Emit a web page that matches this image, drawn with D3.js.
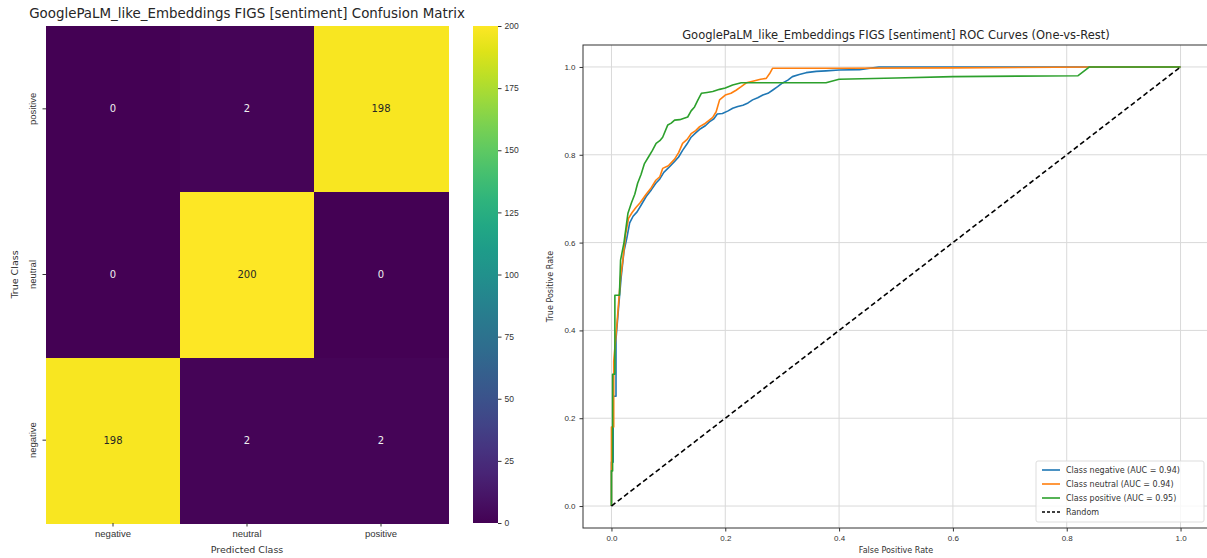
<!DOCTYPE html>
<html>
<head>
<meta charset="utf-8">
<script src="https://cdn.jsdelivr.net/npm/d3@7"></script>
<style>
  body { margin: 0; background: #fff; }
  svg { display: block; font-family: "DejaVu Sans", sans-serif; }
  .axis path, .axis line { stroke: #333; }
  .axis text { fill: #333; }
</style>
</head>
<body>
<svg id="chart" width="1207" height="558"></svg>
<script>
// ---- data ----
const classes = ["negative", "neutral", "positive"];
// rows = true class (negative, neutral, positive), cols = predicted class
const confusion = [
  [198, 2, 2],
  [0, 200, 0],
  [0, 2, 198]
];
const colorbarTicks = [0, 25, 50, 75, 100, 125, 150, 175, 200];
const rocTicks = [0, 0.2, 0.4, 0.6, 0.8, 1.0];

const negFpr = [0, 0, 0.003, 0.003, 0.008, 0.008, 0.013, 0.017, 0.022, 0.027, 0.032, 0.038, 0.045, 0.052, 0.061, 0.07, 0.078, 0.085, 0.092, 0.1, 0.111, 0.118, 0.125, 0.133, 0.14, 0.148, 0.155, 0.165, 0.172, 0.18, 0.186, 0.195, 0.205, 0.213, 0.222, 0.231, 0.24, 0.248, 0.257, 0.266, 0.275, 0.283, 0.292, 0.3, 0.31, 0.318, 0.33, 0.342, 0.36, 0.377, 0.4, 0.436, 0.47, 0.6, 1.0];
const negTpr = [0, 0.1, 0.1, 0.25, 0.25, 0.38, 0.46, 0.52, 0.58, 0.61, 0.645, 0.66, 0.67, 0.685, 0.705, 0.72, 0.735, 0.745, 0.76, 0.77, 0.785, 0.795, 0.81, 0.825, 0.84, 0.85, 0.858, 0.866, 0.875, 0.882, 0.893, 0.894, 0.9, 0.906, 0.91, 0.913, 0.918, 0.925, 0.93, 0.936, 0.94, 0.947, 0.955, 0.963, 0.97, 0.978, 0.983, 0.987, 0.99, 0.991, 0.993, 0.994, 1.0, 1.0, 1.0];

const neuFpr = [0, 0, 0.004, 0.004, 0.01, 0.013, 0.016, 0.02, 0.025, 0.03, 0.036, 0.043, 0.05, 0.061, 0.07, 0.078, 0.085, 0.09, 0.1, 0.111, 0.118, 0.125, 0.133, 0.14, 0.148, 0.155, 0.163, 0.172, 0.178, 0.184, 0.19, 0.2, 0.21, 0.219, 0.228, 0.237, 0.25, 0.262, 0.272, 0.278, 0.283, 0.4, 0.6, 0.85, 1.0];
const neuTpr = [0, 0.18, 0.18, 0.33, 0.42, 0.47, 0.52, 0.56, 0.62, 0.655, 0.668, 0.68, 0.69, 0.71, 0.725, 0.742, 0.75, 0.769, 0.775, 0.79, 0.805, 0.826, 0.835, 0.848, 0.855, 0.864, 0.87, 0.879, 0.885, 0.898, 0.925, 0.936, 0.94, 0.947, 0.955, 0.964, 0.968, 0.972, 0.974, 0.985, 0.997, 0.997, 0.998, 1.0, 1.0];

const posFpr = [0, 0, 0.002, 0.002, 0.006, 0.006, 0.014, 0.016, 0.022, 0.029, 0.035, 0.041, 0.046, 0.052, 0.058, 0.065, 0.072, 0.0785, 0.085, 0.09, 0.099, 0.105, 0.111, 0.12, 0.134, 0.14, 0.146, 0.152, 0.158, 0.168, 0.178, 0.19, 0.2, 0.213, 0.228, 0.313, 0.377, 0.4, 0.5, 0.6, 0.82, 0.84, 1.0];
const posTpr = [0, 0.08, 0.08, 0.3, 0.3, 0.48, 0.48, 0.56, 0.6, 0.667, 0.69, 0.71, 0.735, 0.755, 0.78, 0.795, 0.81, 0.826, 0.832, 0.84, 0.868, 0.872, 0.879, 0.88, 0.886, 0.9, 0.909, 0.925, 0.94, 0.942, 0.944, 0.949, 0.952, 0.959, 0.964, 0.964, 0.964, 0.972, 0.975, 0.978, 0.98, 1.0, 1.0];

const rocSeries = [
  { label: "Class negative (AUC = 0.94)", color: "#1f77b4", fpr: negFpr, tpr: negTpr },
  { label: "Class neutral (AUC = 0.94)", color: "#ff7f0e", fpr: neuFpr, tpr: neuTpr },
  { label: "Class positive (AUC = 0.95)", color: "#2ca02c", fpr: posFpr, tpr: posTpr }
];

const svg = d3.select("#chart");

// ---- confusion matrix (left) ----
const cm = { x0: 46, x1: 448, y0: 26, y1: 523 };
const color = d3.scaleSequential([0, 200], d3.interpolateViridis);

const xBand = d3.scaleBand().domain(classes).range([cm.x0, cm.x1]);
const yBand = d3.scaleBand().domain(classes.slice().reverse()).range([cm.y0, cm.y1]);

const cells = [];
confusion.forEach((row, i) => row.forEach((v, j) => cells.push({ t: classes[i], p: classes[j], v })));

svg.append("g").selectAll("rect").data(cells).join("rect")
  .attr("x", d => xBand(d.p))
  .attr("y", d => yBand(d.t))
  .attr("width", xBand.bandwidth() + 0.5)
  .attr("height", yBand.bandwidth() + 0.5)
  .attr("shape-rendering", "crispEdges")
  .attr("fill", d => color(d.v));

svg.append("g").selectAll("text").data(cells).join("text")
  .attr("x", d => xBand(d.p) + xBand.bandwidth() / 2)
  .attr("y", d => yBand(d.t) + yBand.bandwidth() / 2)
  .attr("dy", "0.35em")
  .attr("text-anchor", "middle")
  .attr("font-size", 10)
  .attr("fill", d => d.v > 100 ? "#262626" : "#f0f0f0")
  .text(d => d.v);

const cmX = svg.append("g").attr("class", "axis")
  .attr("transform", `translate(0,${cm.y1})`)
  .call(d3.axisBottom(xBand).tickSize(3.5).tickPadding(4));
cmX.select(".domain").remove();
cmX.selectAll("text").attr("font-size", 9.5);

const cmY = svg.append("g").attr("class", "axis")
  .attr("transform", `translate(${cm.x0},0)`)
  .call(d3.axisLeft(yBand).tickSize(3.5).tickPadding(4));
cmY.select(".domain").remove();
cmY.selectAll("text")
  .attr("font-size", 9.5)
  .attr("text-anchor", "middle")
  .attr("dy", 0)
  .attr("transform", d => `rotate(-90,${-10},0)`)
  .attr("x", -10)
  .attr("y", 0);

svg.append("text")
  .attr("x", (cm.x0 + cm.x1) / 2).attr("y", 553)
  .attr("text-anchor", "middle").attr("font-size", 9.5).attr("fill", "#333")
  .text("Predicted Class");
svg.append("text")
  .attr("transform", `translate(18,${(cm.y0 + cm.y1) / 2}) rotate(-90)`)
  .attr("text-anchor", "middle").attr("font-size", 9.5).attr("fill", "#333")
  .text("True Class");

svg.append("text")
  .attr("x", 247).attr("y", 18)
  .attr("text-anchor", "middle").attr("font-size", 13.4).attr("fill", "#262626")
  .text("GooglePaLM_like_Embeddings FIGS [sentiment] Confusion Matrix");

// colorbar
const cb = { x0: 473, x1: 498 };
const cbScale = d3.scaleLinear().domain([0, 200]).range([cm.y1, cm.y0]);
const grad = svg.append("defs").append("linearGradient")
  .attr("id", "viridis").attr("x1", 0).attr("y1", 1).attr("x2", 0).attr("y2", 0);
d3.range(0, 1.0001, 0.05).forEach(t => {
  grad.append("stop").attr("offset", t).attr("stop-color", d3.interpolateViridis(t));
});
svg.append("rect")
  .attr("x", cb.x0).attr("y", cm.y0)
  .attr("width", cb.x1 - cb.x0).attr("height", cm.y1 - cm.y0)
  .attr("fill", "url(#viridis)");
const cbAxis = svg.append("g").attr("class", "axis")
  .attr("transform", `translate(${cb.x1},0)`)
  .call(d3.axisRight(cbScale).tickValues(colorbarTicks).tickSize(3.5).tickPadding(3));
cbAxis.select(".domain").remove();
cbAxis.selectAll("text").attr("font-size", 8.5);

// ---- ROC curves (right) ----
const roc = { x0: 583, x1: 1209, y0: 45, y1: 528 };
const xs = d3.scaleLinear().domain([-0.05, 1.05]).range([roc.x0, roc.x1]);
const ys = d3.scaleLinear().domain([-0.05, 1.05]).range([roc.y1, roc.y0]);

const plot = svg.append("g");

// grid
plot.append("g").selectAll("line").data(rocTicks).join("line")
  .attr("x1", d => xs(d)).attr("x2", d => xs(d))
  .attr("y1", roc.y0).attr("y2", roc.y1)
  .attr("stroke", "#d9d9d9").attr("stroke-width", 1);
plot.append("g").selectAll("line").data(rocTicks).join("line")
  .attr("y1", d => ys(d)).attr("y2", d => ys(d))
  .attr("x1", roc.x0).attr("x2", roc.x1)
  .attr("stroke", "#d9d9d9").attr("stroke-width", 1);

const line = d3.line().x(d => xs(d[0])).y(d => ys(d[1]));

rocSeries.forEach(s => {
  plot.append("path")
    .datum(s.fpr.map((f, i) => [f, s.tpr[i]]))
    .attr("d", line)
    .attr("fill", "none")
    .attr("stroke", s.color)
    .attr("stroke-width", 1.6)
    .attr("stroke-linejoin", "round");
});

plot.append("path")
  .datum([[0, 0], [1, 1]])
  .attr("d", line)
  .attr("fill", "none")
  .attr("stroke", "#000")
  .attr("stroke-width", 1.6)
  .attr("stroke-dasharray", "5,3");

// spines + axes
const rx = svg.append("g").attr("class", "axis")
  .attr("transform", `translate(0,${roc.y1})`)
  .call(d3.axisBottom(xs).tickValues(rocTicks).tickFormat(d3.format(".1f")).tickSize(3.5).tickPadding(4));
rx.select(".domain").remove();
rx.selectAll("text").attr("font-size", 8);

const ry = svg.append("g").attr("class", "axis")
  .attr("transform", `translate(${roc.x0},0)`)
  .call(d3.axisLeft(ys).tickValues(rocTicks).tickFormat(d3.format(".1f")).tickSize(3.5).tickPadding(4));
ry.select(".domain").remove();
ry.selectAll("text").attr("font-size", 8);

svg.append("rect")
  .attr("x", roc.x0).attr("y", roc.y0)
  .attr("width", roc.x1 - roc.x0).attr("height", roc.y1 - roc.y0)
  .attr("fill", "none").attr("stroke", "#333").attr("stroke-width", 1);

svg.append("text")
  .attr("x", (roc.x0 + roc.x1) / 2).attr("y", 39)
  .attr("text-anchor", "middle").attr("font-size", 11.5).attr("fill", "#262626")
  .text("GooglePaLM_like_Embeddings FIGS [sentiment] ROC Curves (One-vs-Rest)");
svg.append("text")
  .attr("x", (roc.x0 + roc.x1) / 2).attr("y", 553)
  .attr("text-anchor", "middle").attr("font-size", 8).attr("fill", "#333")
  .text("False Positive Rate");
svg.append("text")
  .attr("transform", `translate(553,${(roc.y0 + roc.y1) / 2}) rotate(-90)`)
  .attr("text-anchor", "middle").attr("font-size", 8).attr("fill", "#333")
  .text("True Positive Rate");

// legend
const legendItems = rocSeries.map(s => ({ label: s.label, color: s.color, dash: null }))
  .concat([{ label: "Random", color: "#000", dash: "3,2" }]);
const lg = svg.append("g").attr("transform", "translate(1036,461)");
lg.append("rect")
  .attr("width", 168).attr("height", 61).attr("rx", 2)
  .attr("fill", "#fff").attr("fill-opacity", 0.8)
  .attr("stroke", "#ddd");
const li = lg.selectAll("g").data(legendItems).join("g")
  .attr("transform", (d, i) => `translate(0,${9 + i * 14})`);
li.append("line")
  .attr("x1", 6).attr("x2", 24)
  .attr("stroke", d => d.color).attr("stroke-width", 1.6)
  .attr("stroke-dasharray", d => d.dash);
li.append("text")
  .attr("x", 30).attr("dy", "0.35em")
  .attr("font-size", 8).attr("fill", "#333")
  .text(d => d.label);
</script>
</body>
</html>
